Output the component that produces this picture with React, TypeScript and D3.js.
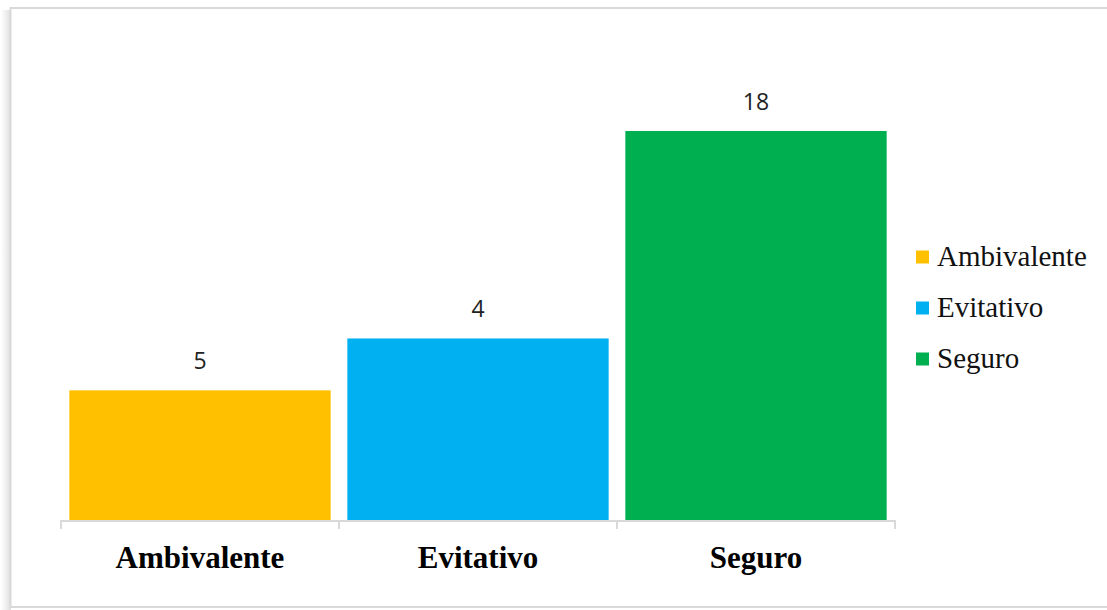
import React from "react";
import * as d3 from "d3";

const categories = ["Ambivalente", "Evitativo", "Seguro"];
const barHeights = [25, 35, 75]; // relative heights as drawn
const valueLabels = ["5", "4", "18"];
const colors = ["#FFC000", "#00B0F0", "#00B050"];

const W = 1107;
const H = 610;

export default function App() {
  const x = d3.scaleBand<string>().domain(categories).range([61, 895]).paddingInner(0.06).paddingOuter(0.03);
  const xTicks = d3.scaleBand<string>().domain(categories).range([61, 895]);
  const y = d3.scaleLinear().domain([0, 75]).range([520, 131]);
  const gradId = "shadowGrad";
  return (
    <svg width={W} height={H} style={{ position: "absolute", left: 0, top: 0 }}>
      <defs>
        <linearGradient id={gradId} x1="0" x2="1" y1="0" y2="0">
          <stop offset="0" stopColor="#ffffff" />
          <stop offset="1" stopColor="#dedede" />
        </linearGradient>
      </defs>
      <rect x={0} y={0} width={W} height={H} fill="#fff" />
      <rect x={1} y={10} width={10} height={600} fill={`url(#${gradId})`} />
      <rect x={10.5} y={8} width={1120} height={599} fill="#fff" stroke="#d9d9d9" strokeWidth={2} />
      {categories.map((c, i) => (
        <g key={c}>
          <rect x={x(c)} y={y(barHeights[i])} width={x.bandwidth()} height={520 - y(barHeights[i])} fill={colors[i]} />
          <text
            x={x(c)! + x.bandwidth() / 2}
            y={y(barHeights[i]) - 21}
            textAnchor="middle"
            fontFamily="'Open Sans', 'Liberation Sans', sans-serif"
            fontSize={23}
            fill="#222"
          >
            {valueLabels[i]}
          </text>
          <text
            x={xTicks(c)! + xTicks.bandwidth() / 2}
            y={568}
            textAnchor="middle"
            fontFamily="'Liberation Serif', 'Times New Roman', serif"
            fontWeight="bold"
            fontSize={31}
            fill="#000"
          >
            {c}
          </text>
        </g>
      ))}
      <line x1={61} x2={895} y1={521} y2={521} stroke="#d9d9d9" strokeWidth={2} />
      {[...categories.map((c) => xTicks(c)!), 895].map((t, i) => (
        <line key={i} x1={t} x2={t} y1={520} y2={529} stroke="#d9d9d9" strokeWidth={2} />
      ))}
      {categories.map((c, i) => (
        <g key={"lg" + c} transform={`translate(916, ${257 + i * 51})`}>
          <rect x={0} y={-6.5} width={13} height={13} fill={colors[i]} />
          <text x={21} y={9} fontFamily="'Liberation Serif', 'Times New Roman', serif" fontSize={29} fill="#111">
            {c}
          </text>
        </g>
      ))}
    </svg>
  );
}
